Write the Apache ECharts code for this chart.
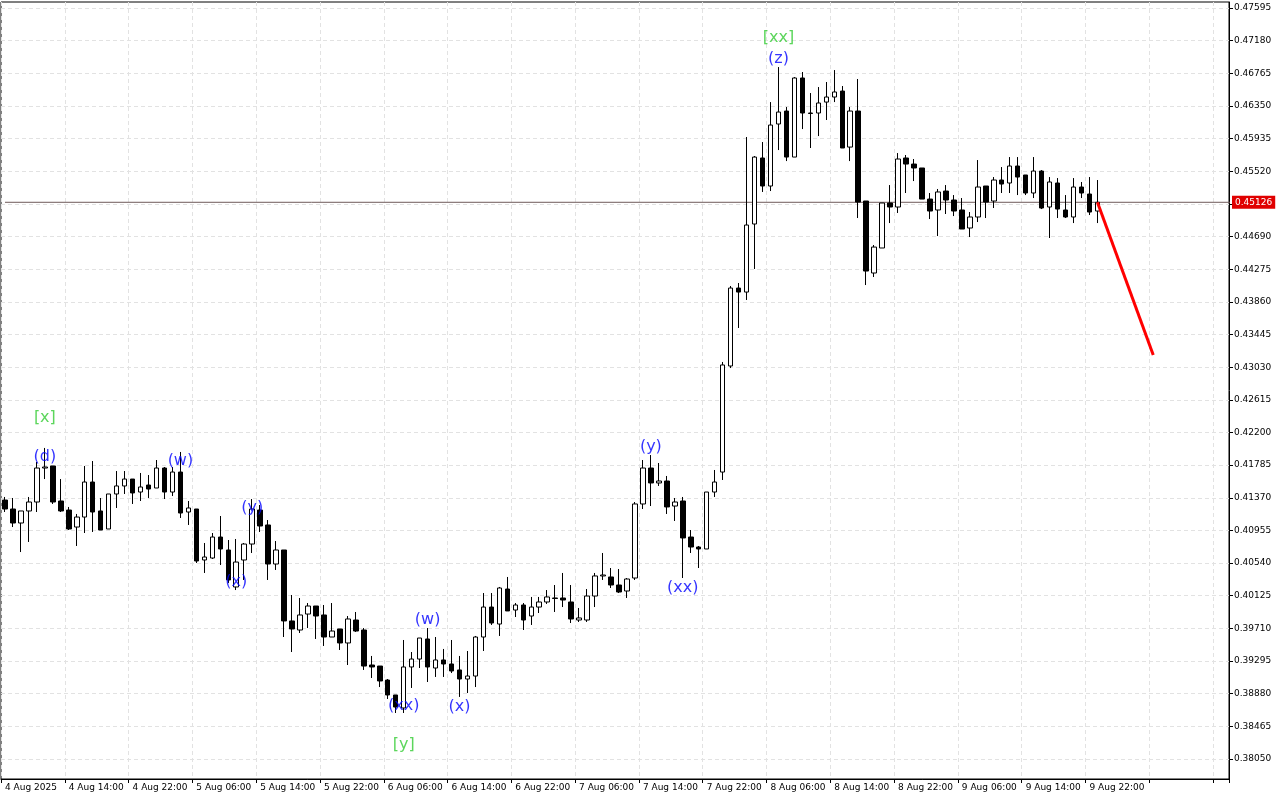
<!DOCTYPE html>
<html>
<head>
<meta charset="utf-8">
<script src="https://cdn.jsdelivr.net/npm/echarts@6/dist/echarts.min.js"></script>
<style>
  html, body { margin: 0; padding: 0; background: #fff; }
  #chart { width: 1280px; height: 800px; }
</style>
</head>
<body>
<div id="chart"></div>
<script>
// hourly candles, values in 1e-5 units: [open, close, low, high]
const candles = [
  [41341,41227,41189,41380],[41227,41049,40998,41367],[41049,41202,40680,41202],[41202,41316,40808,41380],
  [41316,41748,41189,41825],[41748,41761,41608,42003],[41774,41316,41291,41774],[41329,41202,41189,41608],
  [41214,40973,40960,41253],[40998,41125,40757,41164],[41125,41570,40922,41774],[41570,41189,40935,41837],
  [41202,40960,40960,41367],[40973,41418,40973,41418],[41418,41520,41240,41710],[41520,41608,41418,41710],
  [41608,41431,41291,41608],[41443,41507,41329,41685],[41532,41481,41367,41659],[41494,41748,41494,41850],
  [41748,41443,41354,41761],[41443,41697,41392,41761],[41697,41176,41113,41952],[41189,41240,41024,41329],
  [41227,40566,40541,41227],[40579,40617,40414,40795],[40604,40871,40592,40922],[40871,40719,40515,41138],
  [40706,40325,40287,40833],[40236,40553,40197,40846],[40579,40782,40325,40795],[40782,41227,40668,41354],
  [41214,41011,40935,41278],[41024,40528,40325,41087],[40528,40706,40452,40820],[40706,39804,39600,40706],
  [39804,39702,39409,40134],[39689,39880,39651,40096],[39892,39994,39714,40032],[39994,39867,39575,39994],
  [39880,39600,39486,40007],[39600,39676,39600,40032],[39702,39524,39435,39702],[39524,39829,39244,39867],
  [39816,39676,39664,39918],[39689,39231,39181,39714],[39244,39219,39079,39359],[39231,39041,38964,39231],
  [39053,38863,38812,39066],[38863,38710,38634,38863],[38698,39219,38634,39562],[39219,39320,38952,39409],
  [39320,39587,39206,39587],[39575,39219,39028,39714],[39206,39308,39092,39600],[39308,39257,39092,39448],
  [39257,39168,39142,39562],[39181,39066,38838,39359],[39066,39104,38888,39422],[39104,39600,38964,39613],
  [39600,39981,39422,40159],[39981,39778,39753,40159],[39765,40223,39613,40236],[40210,39931,39931,40363],
  [39943,40007,39854,40032],[40007,39816,39689,40032],[39867,39981,39753,40109],[39981,40045,39905,40109],
  [40045,40109,40020,40197],[40096,40090,39918,40261],[40096,40070,39981,40414],[40045,39829,39778,40261],
  [39816,39842,39791,39969],[39816,40121,39791,40210],[40121,40376,39981,40414],[40376,40388,40325,40668],
  [40363,40261,40223,40477],[40261,40172,40159,40464],[40185,40337,40096,40350],[40350,41291,40325,41316],
  [41291,41748,41227,41850],[41748,41558,41265,41913],[41558,41583,41520,41812],[41583,41253,41164,41647],
  [41265,41316,41075,41367],[41329,40859,40350,41380],[40871,40744,40668,40960],[40744,40719,40477,40757],
  [40719,41443,40719,41443],[41443,41570,41380,41723],[41697,43058,41596,43096],[43045,44036,43019,44062],
  [44036,43985,43528,44100],[43985,44837,43884,45956],[44850,45701,44278,45714],[45689,45333,45257,45892],
  [45333,46108,45269,46400],[46121,46273,45790,46845],[46286,45701,45650,46337],[45701,46706,45701,46718],
  [46706,46261,46057,46782],[46261,46255,45816,46515],[46261,46388,45968,46591],[46400,46464,46172,46655],
  [46464,46528,46400,46807],[46540,45816,45816,46604],[45828,46286,45650,46337],[46286,45129,44926,46693],
  [45142,44252,44074,45142],[44227,44557,44176,44583],[44545,45117,44545,45117],[45117,45066,44862,45345],
  [45066,45676,44990,45752],[45689,45612,45244,45727],[45612,45562,45396,45676],[45562,45167,45167,45562],
  [45167,45015,44913,45244],[45028,45257,44697,45295],[45269,45155,44977,45345],[45155,45015,44951,45218],
  [45028,44786,44786,45180],[44799,44939,44684,45002],[44939,45320,44875,45663],[45333,45129,44926,45333],
  [45142,45409,45053,45447],[45409,45358,45244,45574],[45371,45587,45244,45701],[45587,45447,45218,45701],
  [45473,45244,45218,45473],[45244,45523,45180,45701],[45523,45053,45040,45536],[45066,45384,44672,45447],
  [45371,45040,44926,45434],[45028,44939,44926,45218],[44939,45320,44862,45434],[45320,45244,45180,45384],
  [45231,45002,44964,45447],[45015,45126,44862,45409]
];
const currentPrice = 0.45126;
// forecast line: [category index, price]
const forecast = [[137, 0.45126], [144, 0.43185]];
// wave labels: [text, category index, price, colour kind]
const waveLabels = [
  ['[x]', 4.8, 0.42384, 'g'], ['(d)', 4.5, 0.41888, 'b'], ['(w)', 21.8, 0.41837, 'b'],
  ['(y)', 30.8, 0.41240, 'b'], ['(x)', 28.8, 0.40299, 'b'], ['(xx)', 49.7, 0.38723, 'b'],
  ['[y]', 49.9, 0.38227, 'g'], ['(w)', 53, 0.39816, 'b'], ['(x)', 56.9, 0.38710, 'b'],
  ['(y)', 81.1, 0.42015, 'b'], ['(xx)', 85.1, 0.40223, 'b'], ['(z)', 97.1, 0.46947, 'b'],
  ['[xx]', 97, 0.47214, 'g']
];
const yTicks = [];
for (let v = 38050; v <= 47595; v += 415) yTicks.push(v / 1e5);

const totalSlots = 154;
const months = ['Jan','Feb','Mar','Apr','May','Jun','Jul','Aug','Sep','Oct','Nov','Dec'];
const startTime = Date.UTC(2025, 7, 4, 6);
let categories = [];
for (let i = 0; i < totalSlots; i++) {
  let d = new Date(startTime + i * 3600000);
  let label = d.getUTCDate() + ' ' + months[d.getUTCMonth()] + ' ';
  label += i === 0 ? d.getUTCFullYear() : String(d.getUTCHours()).padStart(2, '0') + ':00';
  categories.push(label);
}

let chart = echarts.init(document.getElementById('chart'));
let option = {
  animation: false,
  backgroundColor: '#fff',
  grid: { left: 1, right: 51, top: 2, bottom: 21, show: true, borderColor: '#000', borderWidth: 1 },
  xAxis: {
    type: 'category',
    data: categories,
    boundaryGap: true,
    axisLine: { lineStyle: { color: '#000' } },
    axisTick: { show: true, interval: 7, length: 4, lineStyle: { color: '#000' } },
    axisLabel: {
      interval: 7, align: 'left', color: '#000', fontSize: 9, fontFamily: 'DejaVu Sans', margin: 4,
      formatter: (v, i) => i <= 137 ? v : ''
    },
    splitLine: { show: true, interval: 7, lineStyle: { color: '#e2e2e2', type: [4, 3] } }
  },
  yAxis: {
    type: 'value',
    position: 'right',
    min: 0.37795,
    max: 0.47672,
    axisLine: { show: true, lineStyle: { color: '#000' } },
    axisTick: { show: true, length: 4, customValues: yTicks, lineStyle: { color: '#000' } },
    axisLabel: {
      customValues: yTicks, color: '#000', fontSize: 9, fontFamily: 'DejaVu Sans', margin: 5,
      formatter: v => v.toFixed(5)
    },
    splitLine: { show: true, lineStyle: { color: '#e2e2e2', type: [4, 3] } }
  },
  series: [
    {
      type: 'line',
      data: [[-0.5, currentPrice], [totalSlots - 0.5, currentPrice]],
      symbol: 'none',
      z: 1,
      lineStyle: { color: '#6e5a5a', width: 1 },
      endLabel: {
        show: true, distance: 2, formatter: currentPrice.toFixed(5),
        color: '#fff', backgroundColor: '#e00000', padding: [2, 3], fontSize: 9, fontFamily: 'DejaVu Sans'
      }
    },
    {
      type: 'candlestick',
      barWidth: 5,
      z: 3,
      data: candles.map(c => c.map(v => v / 1e5)),
      itemStyle: { color: '#fff', color0: '#000', borderColor: '#000', borderColor0: '#000', borderWidth: 1 }
    },
    {
      type: 'line',
      data: forecast,
      symbol: 'none',
      z: 4,
      lineStyle: { color: '#ff0000', width: 3 }
    },
    {
      type: 'scatter',
      symbolSize: 0,
      z: 5,
      data: waveLabels.map(w => ({
        value: [w[1], w[2]],
        label: {
          show: true, position: 'inside', formatter: w[0], fontSize: 16, fontFamily: 'DejaVu Sans',
          color: w[3] === 'g' ? '#33cc33' : '#0000ff'
        }
      }))
    }
  ]
};
chart.setOption(option);
</script>
</body>
</html>
